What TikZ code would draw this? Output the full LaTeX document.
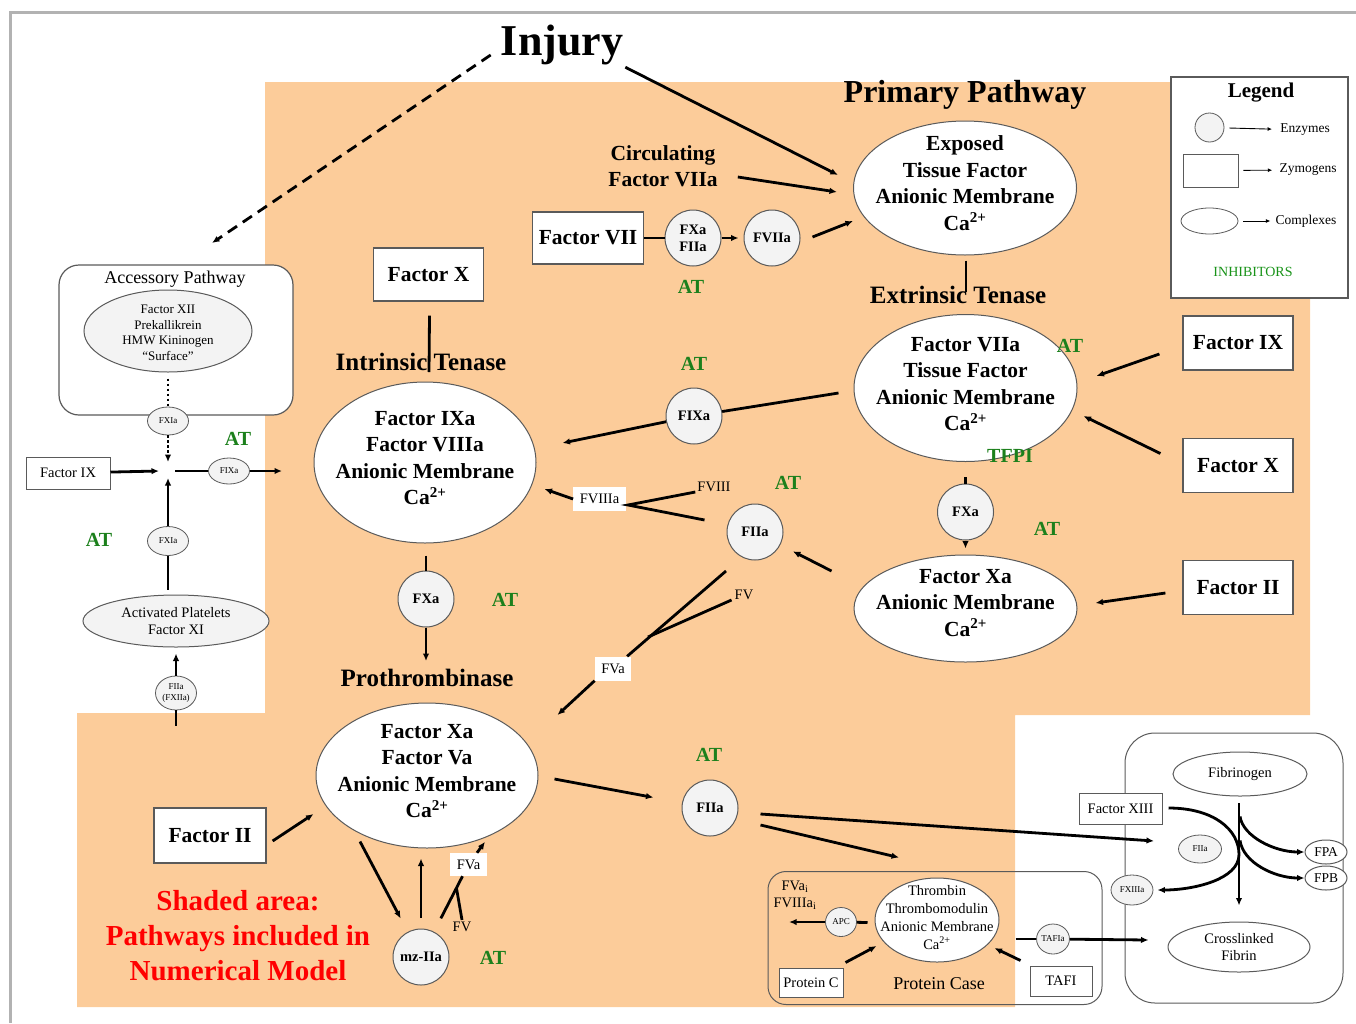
\documentclass[tikz,border=0pt]{standalone}
\usepackage{fontspec}
\setmainfont{Liberation Serif}
\usepackage{xcolor}
\usepackage{tikz}
\usetikzlibrary{arrows.meta,positioning,calc,shapes}

\definecolor{peach}{RGB}{252,204,154}
\definecolor{atgreen}{RGB}{28,128,28}
\definecolor{enzgray}{RGB}{243,243,243}
\definecolor{bordgray}{RGB}{90,90,90}

\begin{document}
\begin{tikzpicture}[
  x=1pt, y=-1pt,
  every node/.style={inner sep=2pt},
  zym/.style={draw=bordgray, line width=1.2pt, fill=white, minimum width=110pt, minimum height=54pt,
              font=\bfseries\fontsize{21.5pt}{26pt}\selectfont},
  szym/.style={draw=bordgray, line width=1pt, fill=white, inner sep=0pt, font=\fontsize{14.5pt}{17pt}\selectfont},
  cplx/.style={ellipse, draw=bordgray, line width=1pt, fill=white, inner sep=0pt},
  ctxt/.style={align=center, font=\bfseries\fontsize{21.5pt}{26.5pt}\selectfont},
  enz/.style={circle, draw=bordgray, line width=1pt, fill=enzgray, minimum size=56pt, inner sep=0pt,
              align=center, font=\bfseries\fontsize{14.5pt}{17pt}\selectfont},
  senz/.style={ellipse, draw=bordgray, line width=0.8pt, fill=enzgray, minimum width=41pt, minimum height=28pt,
               inner sep=0pt, align=center, font=\fontsize{9pt}{10.5pt}\selectfont},
  oval/.style={ellipse, draw=bordgray, line width=1pt, inner sep=0pt, align=center,
               font=\fontsize{14.5pt}{17.5pt}\selectfont},
  hd/.style={font=\bfseries\fontsize{25pt}{30pt}\selectfont},
  inh/.style={text=atgreen, font=\bfseries\fontsize{20pt}{24pt}\selectfont},
  lbl/.style={font=\fontsize{14.5pt}{17pt}\selectfont},
  tag/.style={fill=white, inner xsep=6.5pt, inner ysep=0pt, minimum height=24pt, font=\fontsize{14.5pt}{17pt}\selectfont},
  arr/.style={-{Latex[length=7.5pt,width=6.5pt]}, line width=2.8pt},
  ln/.style={line width=2.8pt},
  larr/.style={-{Latex[length=4.5pt,width=4pt]}, line width=0.9pt},
  dots/.style={dash pattern=on 2.5pt off 2.5pt},
]
  \useasboundingbox (0,0) rectangle (1356,1023);
  \fill[peach] (265,82) -- (1310,82) -- (1310,715) -- (1015,715) -- (1015,1007) -- (77,1007)
               -- (77,713) -- (265,713) -- cycle;
  \draw[gray!60, line width=3pt] (10,1023) -- (10,12) -- (1356,12);

  \node[font=\bfseries\fontsize{44pt}{50pt}\selectfont] (inj) at (562,45) {Injury};
  \node[font=\bfseries\fontsize{32pt}{38pt}\selectfont] (prim) at (965,95) {Primary Pathway};
  \node[ctxt] (circ) at (663,166) {Circulating\\Factor VIIa};
  \coordinate (acc-in) at (212,243);

  \node[cplx, minimum width=223pt, minimum height=134pt] (exp) at (965,188) {};
  \node[ctxt] (exp-t) at (965,183) {Exposed\\Tissue Factor\\Anionic Membrane\\Ca\textsuperscript{2+}};
  \node[zym, minimum width=111pt, minimum height=52pt] (f7) at (588,238) {Factor VII};
  \node[enz] (f2xa) at (693,238) {FXa\\FIIa};
  \node[enz, right=22pt of f2xa] (f7a) {FVIIa};
  \node[inh] (at1) at (691,287) {AT};

  \node[hd] (ext-h) at (958,295) {Extrinsic Tenase};
  \node[cplx, minimum width=223pt, minimum height=147pt] (ext) at (965.5,388) {};
  \node[ctxt] (ext-t) at (965.5,384) {Factor VIIa\\Tissue Factor\\Anionic Membrane\\Ca\textsuperscript{2+}};
  \node[inh] (at2) at (1070,346) {AT};
  \node[inh] (tfpi) at (1010,456) {TFPI};
  \node[zym] (f9r) at (1238,343) {Factor IX};
  \node[zym] (f10r) at (1238,465.5) {Factor X};
  \node[zym] (f2r) at (1238,587.5) {Factor II};
  \node[enz] (xa-r) at (965.5,512) {FXa};
  \node[inh] (at3) at (1047,529) {AT};
  \node[cplx, minimum width=223pt, minimum height=107pt] (xa) at (965.5,608.5) {};
  \node[ctxt] (xa-t) at (965.5,603) {Factor Xa\\Anionic Membrane\\Ca\textsuperscript{2+}};

  \node[zym, minimum height=53pt] (f10l) at (428.5,274.5) {Factor X};
  \node[hd] (int-h) at (421,362) {Intrinsic Tenase};
  \node[cplx, minimum width=222pt, minimum height=161pt] (int) at (425,462.5) {};
  \node[ctxt] (int-t) at (425,458) {Factor IXa\\Factor VIIIa\\Anionic Membrane\\Ca\textsuperscript{2+}};
  \node[enz] (f9a-m) at (694,416) {FIXa};
  \node[inh] (at4) at (694,364) {AT};
  \node[tag] (f8a) at (599.5,499) {FVIIIa};
  \node[lbl] (f8) at (714,487) {FVIII};
  \node[inh] (at5) at (788,483) {AT};
  \node[enz] (f2a-m) at (755,532) {FIIa};
  \node[lbl] (f5-m) at (744,595) {FV};
  \node[tag] (f5a-m) at (613,668.5) {FVa};
  \coordinate (j5m) at (648,637);
  \node[enz] (xa-l) at (426,599) {FXa};
  \node[inh] (at6) at (505,600) {AT};

  \node[hd] (pro-h) at (427,678) {Prothrombinase};
  \node[cplx, minimum width=222pt, minimum height=145pt] (pro) at (427,775.5) {};
  \node[ctxt] (pro-t) at (427,771) {Factor Xa\\Factor Va\\Anionic Membrane\\Ca\textsuperscript{2+}};
  \node[zym, minimum width=112pt, minimum height=55pt] (f2l) at (210,835.5) {Factor II};
  \node[enz] (f2a-b) at (710,808) {FIIa};
  \node[inh] (at7) at (709,755) {AT};
  \node[enz] (mz) at (421,957) {mz-IIa};
  \node[inh] (at8) at (493,958) {AT};
  \node[tag, minimum height=23pt] (f5a-b) at (468.5,864.5) {FVa};
  \node[lbl] (f5-b) at (462,927) {FV};
  \coordinate (j5b) at ($(f5a-b.south)+(-12,12)$);
  \node[text=red, align=center, font=\bfseries\fontsize{29pt}{35pt}\selectfont] (shd) at (238,936)
    {Shaded area:\\Pathways included in\\Numerical Model};

  \node[draw=bordgray, line width=1.2pt, fill=white, rounded corners=20pt, minimum width=234pt,
        minimum height=150pt] (accbox) at (176,340) {};
  \node[font=\fontsize{18pt}{21pt}\selectfont] (acc-h) at (175,279) {Accessory Pathway};
  \node[oval, fill=enzgray, minimum width=168pt, minimum height=82pt] (acc) at (168,331) {};
  \node[align=center, font=\fontsize{13pt}{15.6pt}\selectfont] (acc-t) at (168,333)
    {Factor XII\\Prekallikrein\\HMW Kininogen\\“Surface”};
  \node[senz] (fxia1) at (168,421) {FXIa};
  \coordinate (xj) at (168,471);
  \node[szym, minimum width=84pt, minimum height=32pt] (f9l) at (68,473) {Factor IX};
  \node[senz, minimum height=26pt] (f9as) at (229,471) {FIXa};
  \node[inh] (at9) at (238,439) {AT};
  \node[inh] (at10) at (99,540) {AT};
  \node[senz, minimum height=29pt] (fxia2) at (168,541) {FXIa};
  \node[oval, fill=enzgray, minimum width=186pt, minimum height=52pt] (plt) at (176,621)
    {Activated Platelets\\Factor XI};
  \node[senz, minimum height=34pt] (f2xii) at (176,693) {FIIa\\(FXIIa)};

  \node[draw=bordgray, line width=1pt, rounded corners=18pt, minimum width=334pt,
        minimum height=133pt] (pcase) at (935,938) {};
  \node[cplx, minimum width=124pt, minimum height=84pt] (thr) at (937,920) {};
  \node[align=center, font=\fontsize{14.5pt}{17.8pt}\selectfont] (thr-t) at (937,917.5)
    {Thrombin\\Thrombomodulin\\Anionic Membrane\\Ca\textsuperscript{2+}};
  \node[senz, minimum width=31pt, minimum height=29pt] (apc) at (841,922) {APC};
  \node[lbl, align=center, font=\fontsize{14.5pt}{17pt}\selectfont] (inact) at (795,895)
    {FVa\textsubscript{i}\\FVIIIa\textsubscript{i}};
  \node[szym, minimum width=64pt, minimum height=29pt] (pc) at (811,982.5) {Protein C};
  \node[font=\fontsize{18pt}{21pt}\selectfont] (pcl) at (939,984) {Protein Case};
  \node[szym, minimum width=62pt, minimum height=30pt] (tafi) at (1061,981) {TAFI};
  \node[senz, minimum width=29pt, minimum height=30pt] (tafia) at (1053,939) {TAFIa};

  \node[draw=bordgray, line width=1pt, rounded corners=30pt, minimum width=218pt,
        minimum height=270pt] (fbox) at (1234,868) {};
  \node[oval, minimum width=134pt, minimum height=44pt] (fbg) at (1240,774) {Fibrinogen};
  \node[oval, minimum width=142pt, minimum height=50pt] (cf) at (1239,947) {Crosslinked\\Fibrin};
  \node[szym, minimum width=83pt, minimum height=31pt] (f13) at (1120.5,809) {Factor XIII};
  \node[senz, minimum width=43pt, minimum height=28pt] (f2s) at (1200,849) {FIIa};
  \node[senz, minimum width=42pt, minimum height=30pt] (f13a) at (1132,890) {FXIIIa};
  \node[oval, fill=white, minimum width=42pt, minimum height=24pt, font=\fontsize{13.5pt}{16pt}\selectfont] (fpa) at (1326,852) {FPA};
  \node[oval, fill=white, minimum width=42pt, minimum height=24pt, font=\fontsize{13.5pt}{16pt}\selectfont] (fpb) at (1326,878) {FPB};

  \node[draw=bordgray, line width=1.2pt, fill=white, minimum width=177pt, minimum height=221pt] (leg) at (1259.5,187.5) {};
  \node[font=\bfseries\fontsize{21pt}{25pt}\selectfont] (leg-h) at (1261,93) {Legend};
  \node[circle, draw=bordgray, line width=0.8pt, fill=enzgray, minimum size=29pt, inner sep=0pt] (le) at (1209.5,127.5) {};
  \node[draw=bordgray, line width=0.8pt, minimum width=55pt, minimum height=33pt, inner sep=0pt] (lz) at (1210.5,170.5) {};
  \node[ellipse, draw=bordgray, line width=0.8pt, minimum width=57pt, minimum height=26pt, inner sep=0pt] (lc) at (1209.5,221) {};
  \node[font=\fontsize{13.5pt}{16pt}\selectfont] (le-t) at (1305,130) {Enzymes};
  \node[font=\fontsize{13.5pt}{16pt}\selectfont] (lz-t) at (1308,170) {Zymogens};
  \node[font=\fontsize{13.5pt}{16pt}\selectfont] (lc-t) at (1306,221) {Complexes};
  \node[text=atgreen!85!green, font=\fontsize{14pt}{16pt}\selectfont] (inh-t) at (1253,272) {INHIBITORS};
  \draw[larr, shorten <=5pt, shorten >=6pt] (le) -- (le-t);
  \draw[larr, shorten <=5pt, shorten >=5pt] (lz) -- (lz-t);
  \draw[larr, shorten <=5pt, shorten >=3pt] (lc) -- (lc-t);

  \draw[arr, dash pattern=on 11pt off 7pt] ($(inj.west)+(-8,10)$) -- (acc-in);
  \draw[arr] (inj.south east) -- ($(exp.west)+(-15,-13)$);
  \draw[arr] ($(circ.east)+(18,11)$) -- ($(exp.west)+(-16,4)$);
  \draw[ln] (f7) -- (f2xa);
  \draw[arr, shorten >=5pt] (f2xa) -- (f7a);
  \draw[arr] ($(f7a.east)+(12,-1)$) -- ($(exp.west)+(0,33)$);
  \draw[ln] ($(exp.south)+(1,5)$) -- ($(ext-h.center)+(8,-3)$);

  \draw[arr] ($(f9r.west)+(-23,11)$) -- ($(ext.east)+(19,-12)$);
  \draw[arr] ($(f10r.west)+(-22,-12)$) -- ($(ext.east)+(6,28)$);
  \draw[arr] ($(f2r.west)+(-17,5.5)$) -- ($(xa.east)+(18,-5.5)$);
  \draw[ln] ($(ext.south)+(0,15)$) -- (xa-r);
  \draw[arr, shorten >=6pt] (xa-r) -- (xa);
  \draw[arr, shorten >=14pt] ($(xa.west)+(-22,-37.5)$) -- (f2a-m);

  \draw[ln] ($(ext.west)+(-15,5)$) -- (f9a-m);
  \draw[arr] (f9a-m) -- ($(int.east)+(26,-19.5)$);
  \draw[ln] ($(f8.west)+(0,5)$) -- ($(f8a.east)+(2,6)$) -- ($(f2a-m.west)+(-22,-12)$);
  \draw[arr] (f8a.west) -- ($(int.east)+(8,26.5)$);
  \draw[ln] ($(f2a-m)+(-29,39)$) -- (f5a-m);
  \draw[ln] ($(f5-m.west)+(-1,5)$) -- (j5m);
  \draw[arr] (f5a-m.south west) -- ($(pro.east)+(19,-60.5)$);

  \draw[ln] ($(f10l.south)+(1,14)$) -- ($(int-h.center)+(8,10)$);
  \draw[ln] ($(int.south)+(1,12)$) -- (xa-l);
  \draw[arr] (xa-l) -- ($(pro-h.north)+(-1,-6)$);

  \draw[arr] ($(f2l.east)+(6,5.5)$) -- ($(pro.west)+(-2,38.5)$);
  \draw[arr, shorten >=29pt] ($(pro.east)+(16,3.5)$) -- (f2a-b);
  \draw[arr, shorten >=15pt] ($(pro.south)+(-67,-7)$) -- (mz);
  \draw[arr, shorten <=11pt] (mz) -- ($(pro.south)+(-6,10)$);
  \draw[ln, shorten <=15pt] (mz) -- (f5a-b);
  \draw[ln] (f5-b.north) -- (j5b);
  \draw[arr] ($(f5a-b.north)+(8.5,0)$) -- ($(f5a-b.north)+(16.5,-11)$);

  \draw[dots, line width=2.8pt] ($(acc.south)+(0,6)$) -- (fxia1);
  \draw[arr, dots] (fxia1) -- ($(xj)+(0,-9)$);
  \draw[arr] (f9l) -- ($(xj)+(-9,0)$);
  \draw[arr] (fxia2) -- ($(xj)+(0,7)$);
  \draw[ln] ($(plt.north)+(-8,-5)$) -- (fxia2);
  \draw[arr] (f2xii) -- ($(plt.south)+(0,6)$);
  \draw[ln] (f2xii.south) -- ($(f2xii.south)+(0,16)$);
  \draw[ln] ($(xj)+(7,0)$) -- (f9as);
  \draw[arr] (f9as) -- ($(xj)+(114,0)$);

  \draw[arr] ($(f2a-b.east)+(22,6)$) -- ($(f2s)+(-46,-8)$);
  \draw[arr] ($(f2a-b.east)+(22,17)$) -- ($(thr.north)+(-38,-20)$);
  \draw[ln] ($(thr.west)+(-7,2.5)$) -- (apc);
  \draw[arr] (apc) -- ($(apc.west)+(-36,0)$);
  \draw[arr] ($(pc.north east)+(2,-5)$) -- ($(thr.west)+(2,26)$);
  \draw[arr] ($(tafi.north west)+(-9,-5)$) -- ($(thr.east)+(-5,28)$);
  \draw[ln] ($(thr.east)+(16,19)$) -- (tafia);
  \draw[arr] (tafia) -- ($(cf.west)+(-19,-7)$);

  \draw[arr] ($(fbg.south)+(-1,6.5)$) -- ($(cf.north)+(0,-16)$);
  \draw[arr] ($(fbg.south)+(0,20)$) .. controls +(3,20) and +(-30,0) .. (fpa.west);
  \draw[arr] ($(fbg.south)+(0,44)$) .. controls +(3,22) and +(-30,0) .. (fpb.west);
  \draw[arr, shorten >=4pt] ($(f13.east)+(6,-1)$) .. controls +(45,0) and +(0,-25) .. ($(fbg.south)+(-1,58)$)
     .. controls +(0,25) and +(40,0) .. (f13a.east);
\end{tikzpicture}
\end{document}
